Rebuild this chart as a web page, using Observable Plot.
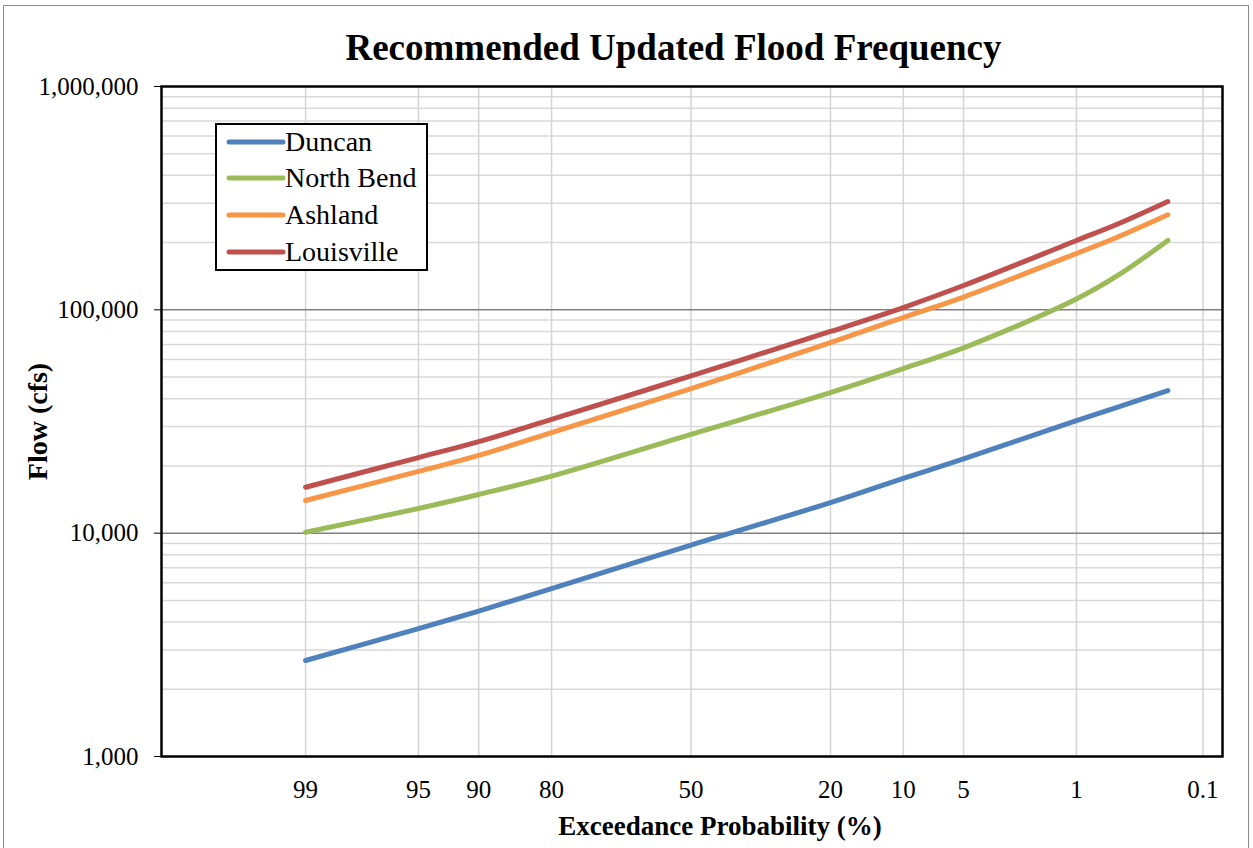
<!DOCTYPE html>
<html><head><meta charset="utf-8">
<script src="https://cdn.jsdelivr.net/npm/d3@7"></script>
<script src="https://cdn.jsdelivr.net/npm/@observablehq/plot@0.6"></script>
<style>
html,body{margin:0;padding:0;background:#fff;}
#wrap{position:relative;width:1253px;height:848px;overflow:hidden;font-family:"Liberation Serif","Times New Roman",serif;}
#border{position:absolute;left:3px;top:5px;width:1246px;height:870px;border:1px solid #8c8c8c;box-sizing:border-box;}
#title{position:absolute;left:0;top:0;width:1253px;height:60px;box-sizing:border-box;padding-left:94px;padding-top:22px;text-align:center;font-weight:bold;font-size:37px;line-height:52px;color:#000;white-space:nowrap;}
#chart{position:absolute;left:0;top:60px;}
#legend{position:absolute;left:215px;top:123px;width:213px;height:148px;border:2.5px solid #000;background:#fff;box-sizing:border-box;z-index:5;}
.row{position:absolute;left:0;height:36px;line-height:36px;font-size:28px;white-space:nowrap;}
.row svg{position:absolute;left:0;top:0;}
.row span{position:absolute;left:68px;top:0;}
</style>
</head><body>
<div id="wrap">
  <div id="border"></div>
  <div id="title">Recommended Updated Flood Frequency</div>
  <div id="chart"></div>
  <div id="legend"></div>
</div>
<script>
// ---- data ----
const probs = [99, 95, 90, 80, 50, 20, 10, 5, 1, 0.5, 0.2];
const duncan = [2690, 3740, 4480, 5650, 8850, 13700, 17600, 21500, 31900, 36700, 43500];
const northBend = [10100, 12900, 14900, 18000, 27700, 42600, 54600, 67500, 111800, 142500, 204400];
const ashland = [14000, 18900, 22300, 28200, 44400, 71400, 92400, 114100, 178700, 211900, 266400];
const louisville = [16060, 21800, 25700, 32300, 50600, 80000, 102400, 128500, 204400, 242300, 305600];
const seriesNames = ["Duncan", "North Bend", "Ashland", "Louisville"];
const seriesValues = [duncan, northBend, ashland, louisville];
const seriesColors = ["#4f81bd", "#9bbb59", "#f79646", "#c0504d"];
const xTickLabels = [99, 95, 90, 80, 50, 20, 10, 5, 1, 0.1];
const yTicks = [1000, 10000, 100000, 1000000];

// inverse normal CDF (Acklam)
function invNorm(p) {
  const a = [-3.969683028665376e+01, 2.209460984245205e+02, -2.759285104469687e+02, 1.383577518672690e+02, -3.066479806614716e+01, 2.506628277459239e+00];
  const b = [-5.447609879822406e+01, 1.615858368580409e+02, -1.556989798598866e+02, 6.680131188771972e+01, -1.328068155288572e+01];
  const c = [-7.784894002430293e-03, -3.223964580411365e-01, -2.400758277161838e+00, -2.549732539343734e+00, 4.374664141464968e+00, 2.938163982698783e+00];
  const d = [7.784695709041462e-03, 3.224671290700398e-01, 2.445134137142996e+00, 3.754408661907416e+00];
  const pl = 0.02425, ph = 1 - pl;
  let q, r;
  if (p < pl) { q = Math.sqrt(-2 * Math.log(p)); return (((((c[0]*q+c[1])*q+c[2])*q+c[3])*q+c[4])*q+c[5]) / ((((d[0]*q+d[1])*q+d[2])*q+d[3])*q+1); }
  if (p <= ph) { q = p - 0.5; r = q*q; return (((((a[0]*r+a[1])*r+a[2])*r+a[3])*r+a[4])*r+a[5])*q / (((((b[0]*r+b[1])*r+b[2])*r+b[3])*r+b[4])*r+1); }
  q = Math.sqrt(-2 * Math.log(1 - p));
  return -(((((c[0]*q+c[1])*q+c[2])*q+c[3])*q+c[4])*q+c[5]) / ((((d[0]*q+d[1])*q+d[2])*q+d[3])*q+1);
}
const zOf = (pct) => invNorm(1 - pct / 100);

const rows = [];
seriesNames.forEach((name, s) => {
  probs.forEach((p, i) => rows.push({name, z: zOf(p), v: seriesValues[s][i]}));
});
const xTickZ = xTickLabels.map(zOf);
const xLabelMap = new Map(xTickZ.map((z, i) => [z, String(xTickLabels[i])]));
const minorY = [];
for (const dec of [1000, 10000, 100000]) for (let m = 2; m <= 9; m++) minorY.push(dec * m);

const chart = Plot.plot({
  width: 1253,
  height: 788,
  marginLeft: 161,
  marginRight: 31,
  marginTop: 26,
  marginBottom: 92,
  style: {fontFamily: '"Liberation Serif","Times New Roman",serif', fontSize: "25px", color: "#000", background: "transparent"},
  x: {type: "linear", domain: [-3.196, 3.208]},
  y: {type: "log", domain: [1000, 1000000]},
  color: {domain: seriesNames, range: seriesColors},
  marks: [
    Plot.ruleY(minorY, {stroke: "#d9d9d9", strokeWidth: 1.5}),
    Plot.ruleX(xTickZ, {stroke: "#d4d4d4", strokeWidth: 1.5}),
    Plot.ruleY([10000, 100000], {stroke: "#808080", strokeWidth: 1.5}),
    Plot.line(rows, {x: "z", y: "v", z: "name", stroke: "name", strokeWidth: 5, curve: "catmull-rom", strokeLinecap: "round", strokeLinejoin: "round"}),
    Plot.frame({stroke: "#000", strokeWidth: 2.5}),
    Plot.axisY(yTicks, {tickFormat: d3.format(","), tickSize: 7, tickPadding: 16, fontSize: 25, label: null, stroke: "#000"}),
    Plot.axisX(xTickZ, {tickFormat: (d) => xLabelMap.get(d), tickSize: 0, tickPadding: 24, fontSize: 25, label: null}),
    Plot.text(["Flow (cfs)"], {frameAnchor: "left", dx: -123, rotate: -90, fontWeight: "bold", fontSize: 28, lineAnchor: "middle", textAnchor: "middle"}),
    Plot.text(["Exceedance Probability (%)"], {frameAnchor: "bottom", dx: 28, dy: 70, fontWeight: "bold", fontSize: 27, lineAnchor: "middle", textAnchor: "middle"})
  ]
});
document.getElementById("chart").appendChild(chart);

// legend
const legend = document.getElementById("legend");
const rowCenters = [17, 53, 90, 127];
seriesNames.forEach((name, i) => {
  const row = document.createElement("div");
  row.className = "row";
  row.style.top = (rowCenters[i] - 18) + "px";
  row.style.width = "200px";
  row.innerHTML = `<svg width="70" height="36"><line x1="12" y1="18" x2="66" y2="18" stroke="${seriesColors[i]}" stroke-width="5" stroke-linecap="round"/></svg><span>${name}</span>`;
  legend.appendChild(row);
});
</script>
</body></html>
